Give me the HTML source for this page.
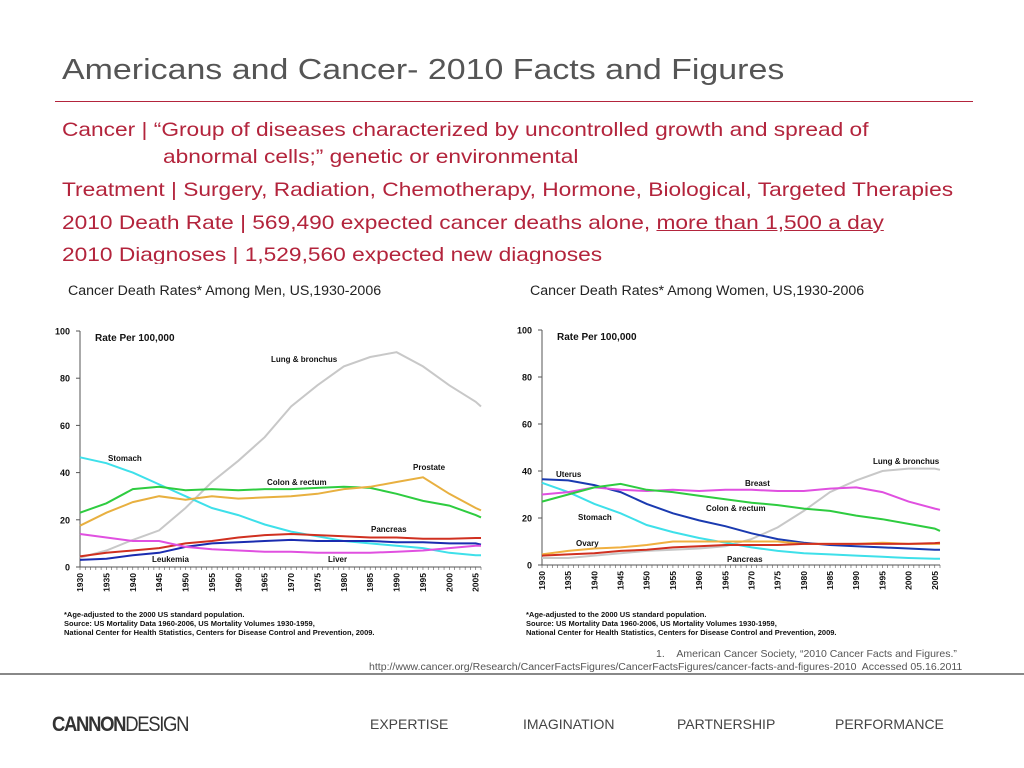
<!DOCTYPE html>
<html><head><meta charset="utf-8">
<style>
body{margin:0;width:1024px;height:768px;background:#fff;position:relative;overflow:hidden;font-family:"Liberation Sans",Arial,sans-serif}
.t{position:absolute;white-space:nowrap}
.red{color:#b3243c;font-size:19.5px;transform:scaleX(1.165);transform-origin:0 0}
</style></head><body>
<div class="t" style="left:62px;top:54px;font-size:29px;color:#555;transform:scaleX(1.17);transform-origin:0 0">Americans and Cancer- 2010 Facts and Figures</div>
<div style="position:absolute;left:55px;top:101px;width:918px;height:1px;background:#b3243c"></div>
<div style="position:absolute;left:0;top:0;width:1024px;height:264px;overflow:hidden">
<div class="t red" style="left:62px;top:119px">Cancer | “Group of diseases characterized by uncontrolled growth and spread of</div>
<div class="t red" style="left:163px;top:146px">abnormal cells;” genetic or environmental</div>
<div class="t red" style="left:62px;top:179px">Treatment | Surgery, Radiation, Chemotherapy, Hormone, Biological, Targeted Therapies</div>
<div class="t red" style="left:62px;top:212px">2010 Death Rate | 569,490 expected cancer deaths alone, <span style="text-decoration:underline">more than 1,500 a day</span></div>
<div class="t red" style="left:62px;top:244px">2010 Diagnoses | 1,529,560 expected new diagnoses</div>
</div>
<svg id="ch" width="1024" height="768" style="position:absolute;left:0;top:0" font-family="Liberation Sans, Arial, sans-serif"></svg>
<div class="t" style="left:656px;top:648px;font-size:10.5px;color:#555">1.&nbsp;&nbsp;&nbsp;&nbsp;American Cancer Society, “2010 Cancer Facts and Figures.”</div>
<div class="t" style="left:369px;top:662px;font-size:10px;color:#555;transform:scaleX(1.053);transform-origin:0 0">http://www.cancer.org/Research/CancerFactsFigures/CancerFactsFigures/cancer-facts-and-figures-2010&nbsp; Accessed 05.16.2011</div>
<div style="position:absolute;left:0;top:673px;width:1024px;height:2px;background:#888"></div>
<div class="t" style="left:52px;top:713px;font-size:21px;color:#333;letter-spacing:-1.5px;transform:scaleX(0.88);transform-origin:0 0"><b>CANNON</b><span style="font-weight:normal">DESIGN</span></div>
<div class="t" style="left:370px;top:716px;font-size:14px;color:#444">EXPERTISE</div>
<div class="t" style="left:523px;top:716px;font-size:14px;color:#444">IMAGINATION</div>
<div class="t" style="left:677px;top:716px;font-size:14px;color:#444">PARTNERSHIP</div>
<div class="t" style="left:835px;top:716px;font-size:14px;color:#444">PERFORMANCE</div>
<script>
const years=[1930,1935,1940,1945,1950,1955,1960,1965,1970,1975,1980,1985,1990,1995,2000,2005,2006];
const yTicks=[0,20,40,60,80,100];
const xTickLabels=[1930,1935,1940,1945,1950,1955,1960,1965,1970,1975,1980,1985,1990,1995,2000,2005];
const menLung=[4,7,11.5,15.5,25,36,45,55,68,77,85,89,91,85,77,70,68];
const menStomach=[46.5,44,40,35,30,25,22,18,15,13,11,10,9,8,6,5,5];
const menColon=[23,27,33,34,32.5,33,32.5,33,33,33.5,34,33.5,31,28,26,22,21];
const menProstate=[17.5,23,27.5,30,28.5,30,29,29.5,30,31,33,34,36,38,31,25,24];
const menPancreas=[4.5,6,7,8,10,11,12.5,13.5,14,13.5,13,12.5,12.5,12,12,12.3,12.3];
const menLeukemia=[3,3.5,5,6,8.5,10,10.5,11,11.5,11,11,11,10.5,10.5,10,10,9.5];
const menLiver=[14,12.5,11,11,8.5,7.5,7,6.5,6.5,6,6,6,6.5,7,8,9,9];
const womLung=[3,3,4,5,6,6.5,7,8,11,16,23,31,36,40,41,41,40.5];
const womUterus=[36.5,36,34,31,26,22,19,16.5,13.5,11,9.5,8.5,8,7.5,7,6.5,6.5];
const womStomach=[35,31,26,22,17,14,11.5,9.5,7.5,6,5,4.5,4,3.5,3,2.7,2.7];
const womBreast=[30,31,33,32,31.5,32,31.5,32,32,31.5,31.5,32.5,33,31,27,24,23.5];
const womColon=[27,30,33,34.5,32,31,29.5,28,26.5,25.5,24,23,21,19.5,17.5,15.5,14.5];
const womOvary=[4.5,6,7,7.5,8.5,10,10,10,10,10,9,9,9,9.5,9,9,9];
const womPancreas=[4,4.5,5,6,6.5,7.5,8,8.5,8.5,8.5,9,9,9,9,9,9.3,9.5];

const NS='http://www.w3.org/2000/svg';
const svg=document.getElementById('ch');
function mk(tag,attrs,parent){const e=document.createElementNS(NS,tag);for(const k in attrs)e.setAttribute(k,attrs[k]);(parent||svg).appendChild(e);return e;}
function chart(cfg){
  const g=mk('g',{});
  
  
  const X=y=>cfg.x0+(y-1930)/(2006-1930)*(cfg.x1-cfg.x0);
  const Y=v=>cfg.y0-v/100*(cfg.y0-cfg.y1);
  const tt=mk('text',{x:cfg.tx,y:295,'font-size':14.2,fill:'#222'},g);tt.textContent=cfg.title;
  
  
  mk('line',{x1:cfg.x0,y1:Y(0),x2:cfg.x0,y2:Y(100),stroke:'#555','stroke-width':1},g);
  mk('line',{x1:cfg.x0,y1:Y(0),x2:cfg.x1,y2:Y(0),stroke:'#555','stroke-width':1},g);
  yTicks.forEach(v=>{
    mk('line',{x1:cfg.x0-4,y1:Y(v),x2:cfg.x0,y2:Y(v),stroke:'#555'},g);
    const t=mk('text',{x:cfg.x0-10,y:Y(v)+3.5,'font-size':9,'font-weight':'bold','text-anchor':'end',fill:'#111'},g);t.textContent=v;
    
    
  });
  for(let yr=1930;yr<=2006;yr++) mk('line',{x1:X(yr),y1:Y(0),x2:X(yr),y2:Y(0)+3,stroke:'#555','stroke-width':0.6},g);
  xTickLabels.forEach(yr=>{
    const t=mk('text',{x:0,y:0,'font-size':8.5,'font-weight':'bold',fill:'#111','text-anchor':'end',transform:`translate(${X(yr)+3},${Y(0)+6}) rotate(-90)`},g);t.textContent=yr;
    
    
  });
  const rl=mk('text',{x:cfg.x0+15,y:Y(100)+10,'font-size':10,'font-weight':'bold',fill:'#111'},g);rl.textContent='Rate Per 100,000';
  cfg.series.forEach(s=>{
    const p=mk('polyline',{points:s.d.map((v,i)=>X(years[i]).toFixed(1)+','+Y(v).toFixed(1)).join(' '),fill:'none',stroke:s.c,'stroke-width':2},g);
    
    
  });
  cfg.labels.forEach(l=>{const t=mk('text',{x:l[1],y:l[2],'font-size':8,'font-weight':'bold',fill:'#111'},g);t.textContent=l[0];
    
    });
  cfg.notes.forEach((n,i)=>{const t=mk('text',{x:cfg.tx-4,y:617+i*9,'font-size':7.5,'font-weight':'bold',fill:'#111'},g);t.textContent=n;
    
    });
}
const notes=['*Age-adjusted to the 2000 US standard population.','Source:  US Mortality Data 1960-2006, US Mortality Volumes 1930-1959,','National Center for Health Statistics, Centers for Disease Control and Prevention, 2009.'];
chart({name:'men-chart',title:'Cancer Death Rates* Among Men, US,1930-2006',tx:68,x0:80,x1:481,y0:567,y1:331,notes,
 series:[{n:'lung',d:menLung,c:'#c8c8c8'},{n:'stomach',d:menStomach,c:'#3ee0ea'},{n:'colon',d:menColon,c:'#2ecc40'},{n:'prostate',d:menProstate,c:'#e8b040'},{n:'pancreas',d:menPancreas,c:'#d03020'},{n:'leukemia',d:menLeukemia,c:'#1a2cb0'},{n:'liver',d:menLiver,c:'#e050e0'}],
 labels:[['Lung & bronchus',271,362],['Stomach',108,461],['Colon & rectum',267,485],['Prostate',413,470],['Pancreas',371,532],['Leukemia',152,562],['Liver',328,562]]});
chart({name:'women-chart',title:'Cancer Death Rates* Among Women, US,1930-2006',tx:530,x0:542,x1:940,y0:565,y1:330,notes,
 series:[{n:'lung',d:womLung,c:'#c8c8c8'},{n:'uterus',d:womUterus,c:'#1a3ab0'},{n:'stomach',d:womStomach,c:'#3ee0ea'},{n:'breast',d:womBreast,c:'#e050e0'},{n:'colon',d:womColon,c:'#2ecc40'},{n:'ovary',d:womOvary,c:'#f0b040'},{n:'pancreas',d:womPancreas,c:'#d03020'}],
 labels:[['Lung & bronchus',873,464],['Uterus',556,477],['Breast',745,486],['Colon & rectum',706,511],['Stomach',578,520],['Ovary',576,546],['Pancreas',727,562]]});
</script>
</body></html>
